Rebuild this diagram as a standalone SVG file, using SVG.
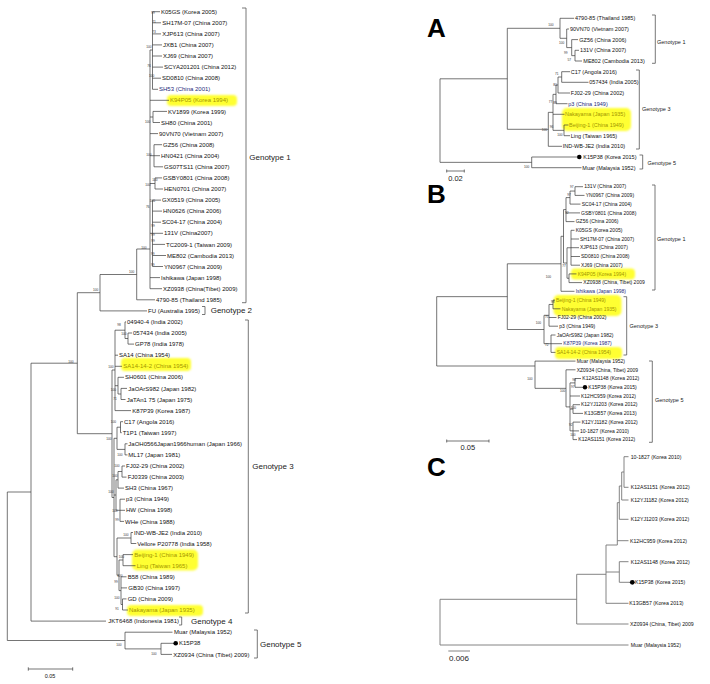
<svg xmlns="http://www.w3.org/2000/svg" width="710" height="684" viewBox="0 0 710 684">
<defs>
<filter id="glow" x="-20%" y="-50%" width="140%" height="200%"><feGaussianBlur stdDeviation="1.3"/></filter>
<style>
text{font-family:"Liberation Sans",Arial,sans-serif;fill:#111}
.L{font-size:6px}
.A{font-size:5.5px}
.B{font-size:5px}
.C{font-size:5.2px}
.hl{fill:#a39600}
.bl{fill:#1d2a7a}
.bs{font-size:3.2px;fill:#333;text-anchor:middle}
.gl{font-size:8px;fill:#222}
.gs{font-size:5.5px;fill:#222}
.pl{font-size:26px;font-weight:bold;fill:#000}
.sc{font-size:7.5px;fill:#222;text-anchor:middle}
.tr{stroke:#3a3a3a;stroke-width:0.7;fill:none}
.trc{stroke:#777;stroke-width:0.9;fill:none}
.bk{stroke:#555;stroke-width:0.8;fill:none}
.hb{fill:#ffff33;filter:url(#glow)}
</style>
</defs>
<rect width="710" height="684" fill="#fff"/>

<!-- highlights -->
<g id="highlights">
<rect class="hb" x="167" y="95" width="70" height="11" rx="4"/>
<rect class="hb" x="121" y="358" width="70" height="13" rx="4"/>
<rect class="hb" x="132" y="549.5" width="66" height="21" rx="5"/>
<rect class="hb" x="127" y="605" width="76" height="11" rx="4"/>
<rect class="hb" x="562" y="108" width="69" height="23" rx="5"/>
<rect class="hb" x="571" y="268.5" width="64" height="11" rx="4"/>
<rect class="hb" x="553.5" y="295" width="68" height="21" rx="5"/>
<rect class="hb" x="555" y="347" width="67" height="12" rx="4"/>
</g>

<g id="connectors">
<path class="tr" d="M7.3 492V640.5M7.3 492H31M7.3 640.5H125M31 363.2V621.1M31 363.2H77.3M31 621.1H106M77.3 292.7V433.7M77.3 292.7H100M77.3 433.7H112M100 274.5V310.9M100 274.5H136.7M100 310.9H147M136.7 249V299.8M136.7 249H150M136.7 299.8H155M150 50V288.7M150 50H152.5M152.5 11.7V89.3M152.5 11.7H160M152.5 22.8H161M152.5 33.9H161M152.5 44.9H162M152.5 56H162M152.5 67.1H163M152.5 78.2H161M152.5 89.3H158M150 100.3H169M150 117H153M153 111.4V122.5M153 111.4H167M153 122.5H160M150 133.6H158M150 155.7H154M154 144.7V166.8M154 144.7H162M154 155.7H160M154 166.8H163M150 183.5H155M155 177.9V189M155 177.9H162M155 189H163M150 233.3H152.5M152.5 200.1V266.5M152.5 200.1H161M152.5 211.1H162M152.5 222.2H161M152.5 233.3H163M152.5 244.4H165M152.5 255.5H166M152.5 266.5H163M150 277.6H160M150 288.7H162"/>
<path class="tr" d="M112 370V497.5M112 370H115M112 497.5H114M115 330.2V410.6M115 330.2H125M115 355.2H118M115 366.3H122M115 385.7H118M115 410.6H131M125 321.9V338.5M125 321.9H126M125 338.5H128M128 333V344.1M128 333H132M128 344.1H134M118 377.3V394M118 377.3H124M118 394H121M121 388.4V399.5M121 388.4H127M121 399.5H125.5M114 438.3V556.7M114 438.3H117M114 495H116M114 556.7H117M117 427.2V449.4M117 427.2H120.5M117 449.4H125M120.5 421.7V432.7M120.5 421.7H123M120.5 432.7H121.8M125 443.8V454.9M125 443.8H127.5M125 454.9H127.5M116 479.8V510.3M116 479.8H118M116 510.3H120M118 471.5V488.1M118 471.5H122M118 488.1H124M122 466V477.1M122 466H125M122 477.1H126.5M120 499.2V521.4M120 499.2H125M120 510.3H125M120 521.4H124M117 538V575.3M117 538H131M117 575.3H119M131 532.5V543.5M131 532.5H133M131 543.5H136.3M119 560V590.6M119 560H123M119 590.6H121M123 554.6V565.7M123 554.6H133M123 565.7H135.5M121 576.8V604.5M121 576.8H126.5M121 587.9H127M121 604.5H122.5M122.5 598.9V610M122.5 598.9H126.5M122.5 610H128M125 632.2V648.9M125 632.2H172.5M125 648.9H161M161 643.3V654.4M161 643.3H174M161 654.4H172"/>
<path class="tr" d="M440 78.8V162.35M440 78.8H507.3M440 162.35H531.7M507.3 28.3V129.3M507.3 28.3H560M507.3 129.3H548.3M560 18.3V38.3M560 18.3H574M560 38.3H566.7M566.7 29V47.6M566.7 29H569M566.7 47.6H571.7M571.7 39.6V55.65M571.7 39.6H578M571.7 55.65H575M575 50.3V61M575 50.3H579M575 61H582M548.3 112.35V146.3M548.3 112.35H553M548.3 146.3H562M553 94.35V130.35M553 94.35H556M553 114.3H564.5M553 130.35H564M556 85V103.7M556 85H558M556 103.7H567.5M558 77V93M558 77H561.7M558 93H570M561.7 71.7V82.3M561.7 71.7H570M561.7 82.3H588.5M564 125V135.7M564 125H568.5M564 135.7H570M531.7 157V167.7M531.7 157H577M531.7 167.7H581.5"/>
<path class="tr" d="M436.7 296.65V366M436.7 296.65H507.3M436.7 366H535M507.3 263.8V329.5M507.3 263.8H561M507.3 329.5H544M561 236.3V291.3M561 236.3H563.5M561 291.3H574.5M563.5 209.6V263M563.5 209.6H566M563.5 263H567M566 197.6V221.6M566 197.6H570M566 212.9H580M566 221.6H574.5M570 191.05V204.1M570 191.05H575M570 204.1H580.5M575 186.7V195.4M575 186.7H583M575 195.4H584.5M567 247.75V278.25M567 247.75H571M567 278.25H569M571 230.3V265.2M571 230.3H574.5M571 239H579M571 247.7H579M571 256.5H580M571 265.2H580M569 273.9V282.6M569 273.9H576.5M569 282.6H582M544 315.3V343.7M544 315.3H549M544 343.7H551M549 304.45V326.2M549 304.45H553M549 317.5H556.5M549 326.2H558M553 300.1V308.8M553 300.1H555M553 308.8H560.5M551 335V352.4M551 335H555.5M551 343.7H562M551 352.4H555.5M535 361.1V388.35M535 361.1H575.5M535 388.35H566M566 369.8V406.9M566 369.8H575.5M566 406.9H570M570 382.9V430.85M570 382.9H575M570 396H580M570 409.05H573M570 430.85H573M575 378.5V387.3M575 378.5H581M575 387.3H583M573 404.7V413.4M573 404.7H580M573 413.4H583M573 422.1V439.6M573 422.1H580.5M573 430.9H579M573 439.6H577"/>
<path class="trc" d="M440 599.3V645M440 599.3H576.7M440 645H628.5M576.7 574.3V624M576.7 574.3H606M576.7 624H628.5M606 545V603.3M606 545H617.3M606 572H619.3M606 603.3H628.5M617.3 502.65V545M617.3 502.65H619.3M617.3 540.7H628.5M619.3 486V519.3M619.3 486H621.7M619.3 519.3H628.5M621.7 472V500M621.7 472H624M621.7 500H628.5M624 456.7V487.3M624 456.7H628.5M624 487.3H628.5M619.3 561.7V582.3M619.3 561.7H628.5M619.3 582.3H630"/>
<!-- brackets -->
<path class="bk" d="M242 8H246V302.7H242M202 306.5H205V314.5H202M245 320H248.3V613H245M179 617H181.7V625H179M254 630H257.3V658H254"/>
<path class="bk" d="M652 15H655.3V63.3H652M636 70H639.3V149H636M639.5 155H642.7V169H639.5M652 185H655V290H652M623.5 296.7H626.7V355H623.5M649 361H652.3V442.3H649"/>
<!-- scale bars -->
<path class="tr" d="M28.3 669H72.7M28.3 667.3V670.7M72.7 667.3V670.7M446.7 171H464.3M446.7 169.5V172.5M464.3 169.5V172.5M446.7 441H489M446.7 439.5V442.5M489 439.5V442.5"/>
<path class="trc" d="M448.3 651H470"/>
</g>

<!-- panel letters -->
<text class="pl" x="427" y="37">A</text>
<text class="pl" x="427" y="203">B</text>
<text class="pl" x="427" y="476">C</text>

<!-- left tree taxa -->
<g id="left-taxa" class="L">
<g id="L0"><text class="L" x="161" y="13.8">K05GS (Korea 2005)</text></g>
<g id="L1"><text class="L" x="162.3" y="24.9">SH17M-07 (China 2007)</text></g>
<g id="L2"><text class="L" x="162.3" y="36">XJP613 (China 2007)</text></g>
<g id="L3"><text class="L" x="163" y="47">JXB1 (China 2007)</text></g>
<g id="L4"><text class="L" x="163" y="58.1">XJ69 (China 2007)</text></g>
<g id="L5"><text class="L" x="164" y="69.2">SCYA201201 (China 2012)</text></g>
<g id="L6"><text class="L" x="162" y="80.3">SD0810 (China 2008)</text></g>
<g id="L7"><text class="L bl" x="159" y="91.4">SH53 (China 2001)</text></g>
<g id="L8"><text class="L hl" x="170" y="102.4">K94P05 (Korea 1994)</text></g>
<g id="L9"><text class="L" x="168" y="113.5">KV1899 (Korea 1999)</text></g>
<g id="L10"><text class="L" x="161" y="124.6">SH80 (China 2001)</text></g>
<g id="L11"><text class="L" x="159" y="135.7">90VN70 (Vietnam 2007)</text></g>
<g id="L12"><text class="L" x="163" y="146.8">GZ56 (China 2008)</text></g>
<g id="L13"><text class="L" x="161" y="157.8">HN0421 (China 2004)</text></g>
<g id="L14"><text class="L" x="164" y="168.9">GS07TS11 (China 2007)</text></g>
<g id="L15"><text class="L" x="163" y="180">GSBY0801 (China 2008)</text></g>
<g id="L16"><text class="L" x="164" y="191.1">HEN0701 (China 2007)</text></g>
<g id="L17"><text class="L" x="162" y="202.2">GX0519 (China 2005)</text></g>
<g id="L18"><text class="L" x="163" y="213.2">HN0626 (China 2006)</text></g>
<g id="L19"><text class="L" x="162" y="224.3">SC04-17 (China 2004)</text></g>
<g id="L20"><text class="L" x="164" y="235.4">131V (China2007)</text></g>
<g id="L21"><text class="L" x="166" y="246.5">TC2009-1 (Taiwan 2009)</text></g>
<g id="L22"><text class="L" x="167" y="257.6">ME802 (Cambodia 2013)</text></g>
<g id="L23"><text class="L" x="164" y="268.6">YN0967 (China 2009)</text></g>
<g id="L24"><text class="L" x="161" y="279.7">Ishikawa (Japan 1998)</text></g>
<g id="L25"><text class="L" x="163" y="290.8">XZ0938 (China(Tibet) 2009)</text></g>
<g id="L26"><text class="L" x="156" y="301.9">4790-85 (Thailand 1985)</text></g>
<g id="L27"><text class="L" x="148" y="313">FU (Australia 1995)</text></g>
<g id="L28"><text class="L" x="127" y="324">04940-4 (India 2002)</text></g>
<g id="L29"><text class="L" x="133" y="335.1">057434 (India 2005)</text></g>
<g id="L30"><text class="L" x="135" y="346.2">GP78 (India 1978)</text></g>
<g id="L31"><text class="L" x="119" y="357.3">SA14 (China 1954)</text></g>
<g id="L32"><text class="L hl" x="123.3" y="368.4">SA14-14-2 (China 1954)</text></g>
<g id="L33"><text class="L" x="125" y="379.4">SH0601 (China 2006)</text></g>
<g id="L34"><text class="L" x="128.3" y="390.5">JaOArS982 (Japan 1982)</text></g>
<g id="L35"><text class="L" x="126.7" y="401.6">JaTAn1 75 (Japan 1975)</text></g>
<g id="L36"><text class="L" x="132.3" y="412.7">K87P39 (Korea 1987)</text></g>
<g id="L37"><text class="L" x="124" y="423.8">C17 (Angola 2016)</text></g>
<g id="L38"><text class="L" x="122.7" y="434.8">T1P1 (Taiwan 1997)</text></g>
<g id="L39"><text class="L" x="128.3" y="445.9">JaOH0566Japan1966human (Japan 1966)</text></g>
<g id="L40"><text class="L" x="128.3" y="457">ML17 (Japan 1981)</text></g>
<g id="L41"><text class="L" x="126" y="468.1">FJ02-29 (China 2002)</text></g>
<g id="L42"><text class="L" x="127.7" y="479.2">FJ0339 (China 2003)</text></g>
<g id="L43"><text class="L" x="125" y="490.2">SH3 (China 1967)</text></g>
<g id="L44"><text class="L" x="126" y="501.3">p3 (China 1949)</text></g>
<g id="L45"><text class="L" x="126" y="512.4">HW (China 1998)</text></g>
<g id="L46"><text class="L" x="125" y="523.5">WHe (China 1988)</text></g>
<g id="L47"><text class="L" x="134" y="534.6">IND-WB-JE2 (India 2010)</text></g>
<g id="L48"><text class="L" x="137.3" y="545.6">Vellore P20778 (India 1958)</text></g>
<g id="L49"><text class="L hl" x="134.3" y="556.7">Beijing-1 (China 1949)</text></g>
<g id="L50"><text class="L hl" x="136.7" y="567.8">Ling (Taiwan 1965)</text></g>
<g id="L51"><text class="L" x="127.7" y="578.9">B58 (China 1989)</text></g>
<g id="L52"><text class="L" x="128.3" y="590">GB30 (China 1997)</text></g>
<g id="L53"><text class="L" x="127.7" y="601">GD (China 2009)</text></g>
<g id="L54"><text class="L hl" x="129" y="612.1">Nakayama (Japan 1935)</text></g>
<g id="L55"><text class="L" x="108.3" y="623.2">JKT6468 (Indonesia 1981)</text></g>
<g id="L56"><text class="L" x="174" y="634.3">Muar (Malaysia 1952)</text></g>
<g id="L57"><circle cx="175.7" cy="643.3" r="2.3" fill="#000"/><text class="L" x="179" y="645.4">K15P38</text></g>
<g id="L58"><text class="L" x="173.3" y="656.5">XZ0934 (China (Tibet) 2009)</text></g>
</g>

<g id="left-genotypes">
<text class="gl" x="249.3" y="159.5">Genotype 1</text>
<text class="gl" x="210.7" y="313">Genotype 2</text>
<text class="gl" x="252.3" y="469">Genotype 3</text>
<text class="gl" x="191" y="624">Genotype 4</text>
<text class="gl" x="260" y="647">Genotype 5</text>
<text x="50" y="678" style="font-size:5.5px;text-anchor:middle">0.05</text>
</g>

<g id="left-bootstrap" class="bs">
<text class="bs" x="153" y="14.2">99</text><text class="bs" x="154" y="22.9">71</text><text class="bs" x="154" y="32.9">73</text><text class="bs" x="149" y="47.9">100</text><text class="bs" x="149" y="66.9">76</text><text class="bs" x="151.7" y="77.2">100</text>
<text class="bs" x="147.7" y="122.9">100</text><text class="bs" x="149" y="156.2">100</text><text class="bs" x="155" y="181.2">100</text><text class="bs" x="148" y="186.2">100</text><text class="bs" x="152.3" y="202.2">100</text><text class="bs" x="147.7" y="207.9">76</text>
<text class="bs" x="153" y="226.9">99</text><text class="bs" x="153" y="236.2">99</text><text class="bs" x="153" y="241.9">99</text><text class="bs" x="152.7" y="254.5">99</text><text class="bs" x="152.7" y="265.5">99</text>
<text class="bs" x="144" y="248.9">100</text><text class="bs" x="131.7" y="272.9">100</text><text class="bs" x="95.7" y="291.2">100</text><text class="bs" x="119" y="325.5">98</text><text class="bs" x="124" y="334.5">100</text>
<text class="bs" x="71" y="362.9">100</text><text class="bs" x="111" y="367.9">100</text><text class="bs" x="113.3" y="391.2">100</text><text class="bs" x="115" y="400.2">71</text><text class="bs" x="113.3" y="423.2">100</text><text class="bs" x="109" y="440.2">100</text>
<text class="bs" x="120" y="455.9">100</text><text class="bs" x="117" y="467.2">100</text><text class="bs" x="115" y="477.2">100</text><text class="bs" x="111" y="492.9">100</text><text class="bs" x="115" y="512.2">100</text><text class="bs" x="117" y="521.2">99</text><text class="bs" x="126" y="536.2">100</text>
<text class="bs" x="121.3" y="557.9">100</text><text class="bs" x="120" y="577.2">100</text><text class="bs" x="116" y="582.9">99</text><text class="bs" x="117" y="599.2">100</text><text class="bs" x="117" y="610.2">91</text>
<text class="bs" x="119" y="646.2">100</text><text class="bs" x="154" y="655.2">100</text>
</g>

<!-- Panel A -->
<g id="A-taxa">
<g id="A0"><text class="A" x="575" y="20.2">4790-85 (Thailand 1985)</text></g>
<g id="A1"><text class="A" x="570" y="30.9">90VN70 (Vietnam 2007)</text></g>
<g id="A2"><text class="A" x="579.3" y="41.5">GZ56 (China 2006)</text></g>
<g id="A3"><text class="A" x="580" y="52.2">131V (China 2007)</text></g>
<g id="A4"><text class="A" x="583.3" y="62.9">ME802 (Cambodia 2013)</text></g>
<g id="A5"><text class="A" x="570.7" y="73.6">C17 (Angola 2016)</text></g>
<g id="A6"><text class="A" x="589.3" y="84.2">057434 (India 2005)</text></g>
<g id="A7"><text class="A" x="570.7" y="94.9">FJ02-29 (China 2002)</text></g>
<g id="A8"><text class="A bl" x="568.3" y="105.6">p3 (China 1949)</text></g>
<g id="A9"><text class="A hl" x="565" y="116.2">Nakayama (Japan 1935)</text></g>
<g id="A10"><text class="A hl" x="569" y="126.9">Beijing-1 (China 1949)</text></g>
<g id="A11"><text class="A" x="570.7" y="137.6">Ling (Taiwan 1965)</text></g>
<g id="A12"><text class="A" x="562.7" y="148.2">IND-WB-JE2 (India 2010)</text></g>
<g id="A13"><circle cx="579.3" cy="157" r="2.3" fill="#000"/><text class="A" x="583.3" y="158.9">K15P38 (Korea 2015)</text></g>
<g id="A14"><text class="A" x="582.3" y="169.6">Muar (Malaysia 1952)</text></g>
<text class="gs" x="657" y="43.6">Genotype 1</text>
<text class="gs" x="642" y="110.5">Genotype 3</text>
<text class="gs" x="647.5" y="164.5">Genotype 5</text>
<text class="sc" x="455.5" y="181">0.02</text>
<text class="bs" x="551" y="26.2">100</text><text class="bs" x="561.7" y="43.9">100</text><text class="bs" x="565.7" y="53.5">99</text><text class="bs" x="569.3" y="60.5">57</text><text class="bs" x="556.7" y="75.2">71</text><text class="bs" x="555" y="86.2">80</text><text class="bs" x="550.5" y="102.9">77</text><text class="bs" x="555" y="103.5">89</text><text class="bs" x="551.5" y="127.9">96</text><text class="bs" x="544.3" y="130.9">100</text><text class="bs" x="560" y="136.2">100</text><text class="bs" x="526.7" y="167.9">100</text>
</g>

<!-- Panel B -->
<g id="B-taxa">
<g id="B0"><text class="B" x="584.3" y="188.4">131V (China 2007)</text></g>
<g id="B1"><text class="B" x="585.7" y="197.1">YN0967 (China 2009)</text></g>
<g id="B2"><text class="B" x="581.7" y="205.8">SC04-17 (China 2004)</text></g>
<g id="B3"><text class="B" x="581" y="214.6">GSBY0801 (China 2008)</text></g>
<g id="B4"><text class="B" x="575.7" y="223.3">GZ56 (China 2006)</text></g>
<g id="B5"><text class="B" x="575.7" y="232">K05GS (Korea 2005)</text></g>
<g id="B6"><text class="B" x="580" y="240.7">SH17M-07 (China 2007)</text></g>
<g id="B7"><text class="B" x="580" y="249.4">XJP613 (China 2007)</text></g>
<g id="B8"><text class="B" x="581" y="258.2">SD0810 (China 2008)</text></g>
<g id="B9"><text class="B" x="581" y="266.9">XJ69 (China 2007)</text></g>
<g id="B10"><text class="B hl" x="577.7" y="275.6">K94P05 (Korea 1994)</text></g>
<g id="B11"><text class="B" x="583.3" y="284.3">XZ0938 (China, Tibet) 2009</text></g>
<g id="B12"><text class="B bl" x="575.7" y="293">Ishikawa (Japan 1998)</text></g>
<g id="B13"><text class="B hl" x="556" y="301.8">Beijing-1 (China 1949)</text></g>
<g id="B14"><text class="B hl" x="561.7" y="310.5">Nakayama (Japan 1935)</text></g>
<g id="B15"><text class="B" x="557.7" y="319.2">FJ02-29 (China 2002)</text></g>
<g id="B16"><text class="B" x="559.3" y="327.9">p3 (China 1949)</text></g>
<g id="B17"><text class="B" x="556.7" y="336.7">JaOArS982 (Japan 1982)</text></g>
<g id="B18"><text class="B bl" x="563.3" y="345.4">K87P39 (Korea 1987)</text></g>
<g id="B19"><text class="B hl" x="556.7" y="354.1">SA14-14-2 (China 1954)</text></g>
<g id="B20"><text class="B" x="576.7" y="362.8">Muar (Malaysia 1952)</text></g>
<g id="B21"><text class="B" x="576.7" y="371.5">XZ0934 (China, Tibet) 2009</text></g>
<g id="B22"><text class="B" x="582.3" y="380.2">K12AS1148 (Korea 2012)</text></g>
<g id="B23"><circle cx="585" cy="387.3" r="2.2" fill="#000"/><text class="B" x="588.3" y="389">K15P38 (Korea 2015)</text></g>
<g id="B24"><text class="B" x="581" y="397.7">K12HC959 (Korea 2012)</text></g>
<g id="B25"><text class="B" x="581" y="406.4">K12YJ1203 (Korea 2012)</text></g>
<g id="B26"><text class="B" x="584.3" y="415.1">K13GB57 (Korea 2013)</text></g>
<g id="B27"><text class="B" x="581.7" y="423.8">K12YJ1182 (Korea 2012)</text></g>
<g id="B28"><text class="B" x="580" y="432.6">10-1827 (Korea 2010)</text></g>
<g id="B29"><text class="B" x="578.3" y="441.3">K12AS1151 (Korea 2012)</text></g>
<text class="gs" x="657" y="240.5">Genotype 1</text>
<text class="gs" x="629.5" y="328">Genotype 3</text>
<text class="gs" x="655" y="402">Genotype 5</text>
<text class="sc" x="467.8" y="450">0.05</text>
<text class="bs" x="571.7" y="187.9">97</text><text class="bs" x="569" y="195.5">97</text><text class="bs" x="566.7" y="213.5">92</text><text class="bs" x="564" y="266.9">77</text><text class="bs" x="548.3" y="277.9">100</text><text class="bs" x="552.7" y="302.9">98</text><text class="bs" x="546.7" y="317.9">75</text><text class="bs" x="538.3" y="323.5">100</text><text class="bs" x="546.7" y="345.5">72</text><text class="bs" x="530" y="379.5">100</text><text class="bs" x="574" y="381.2">98</text><text class="bs" x="572.7" y="387.9">97</text><text class="bs" x="562.7" y="392.2">100</text><text class="bs" x="573.3" y="408.9">100</text><text class="bs" x="570.7" y="425.5">92</text><text class="bs" x="573" y="436.2">100</text>
</g>

<!-- Panel C -->
<g id="C-taxa">
<g id="C0"><text class="C" x="630.7" y="458.5">10-1827 (Korea 2010)</text></g>
<g id="C1"><text class="C" x="630.7" y="489.1">K12AS1151 (Korea 2012)</text></g>
<g id="C2"><text class="C" x="630.7" y="501.8">K12YJ1182 (Korea 2012)</text></g>
<g id="C3"><text class="C" x="630.7" y="521.1">K12YJ1203 (Korea 2012)</text></g>
<g id="C4"><text class="C" x="630" y="542.5">K12HC959 (Korea 2012)</text></g>
<g id="C5"><text class="C" x="630.7" y="563.5">K12AS1148 (Korea 2012)</text></g>
<g id="C6"><circle cx="632.3" cy="582.3" r="2.4" fill="#000"/><text class="C" x="635" y="584.1">K15P38 (Korea 2015)</text></g>
<g id="C7"><text class="C" x="629.3" y="605.1">K13GB57 (Korea 2013)</text></g>
<g id="C8"><text class="C" x="630" y="625.8">XZ0934 (China, Tibet) 2009</text></g>
<g id="C9"><text class="C" x="630.7" y="646.8">Muar (Malaysia 1952)</text></g>
<text x="459" y="661" style="font-size:8px;text-anchor:middle;fill:#222">0.006</text>
</g>
</svg>
